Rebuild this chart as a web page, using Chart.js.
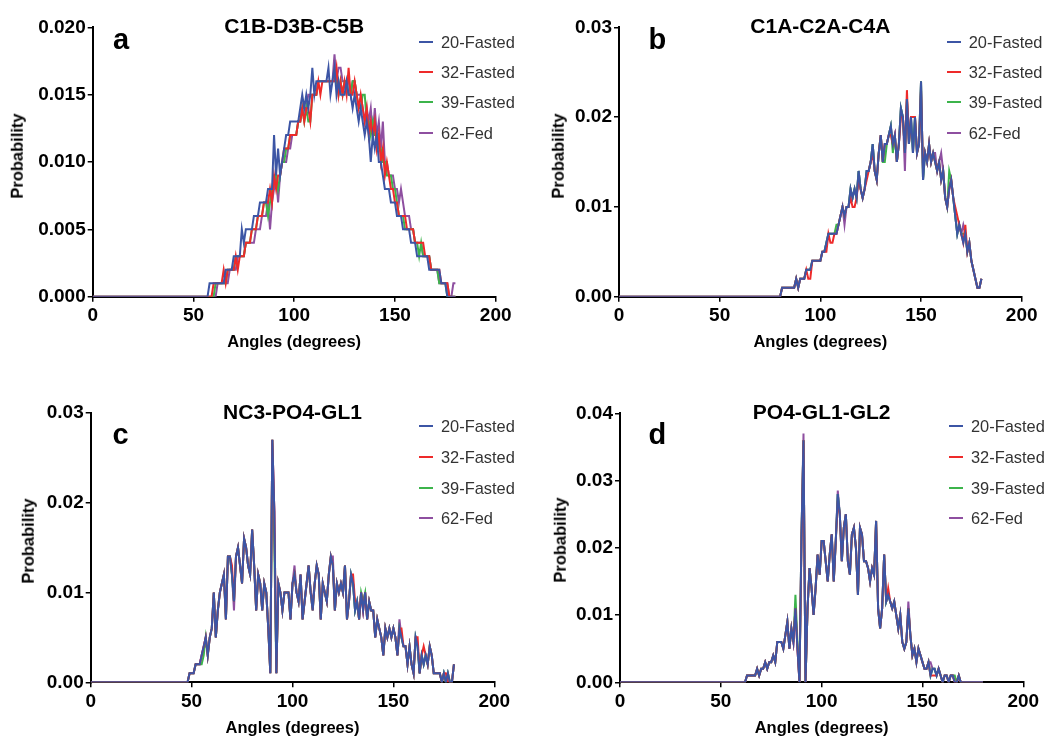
<!DOCTYPE html>
<html><head><meta charset="utf-8">
<script src="https://cdn.jsdelivr.net/npm/chart.js@4"></script>
<style>
html,body{margin:0;padding:0;background:#fff;}
body{width:1048px;height:736px;position:relative;overflow:hidden;font-family:"Liberation Sans",Arial,sans-serif;}
.panel{position:absolute;width:524px;height:368px;}
.panel canvas{position:absolute;left:0;top:0;}
.t{position:absolute;white-space:nowrap;line-height:1;color:#000;}
.lg{position:absolute;height:2px;}
</style></head><body>
<script>
// ---------------- DATA ----------------
const SERIES_NAMES = ['20-Fasted','32-Fasted','39-Fasted','62-Fed'];
const PANEL_TITLES = ['C1B-D3B-C5B','C1A-C2A-C4A','NC3-PO4-GL1','PO4-GL1-GL2'];
const PANEL_LETTERS = ['a','b','c','d'];
const X_TITLE = 'Angles (degrees)';
const Y_TITLE = 'Probability';
const X_TICKS = [0,50,100,150,200];
const Y_TICKS_A = [0,0.005,0.010,0.015,0.020];
const Y_TICKS_B = [0,0.01,0.02,0.03];
const Y_TICKS_C = [0,0.01,0.02,0.03];
const Y_TICKS_D = [0,0.01,0.02,0.03,0.04];

const ANGLES = [0,1,2,3,4,5,6,7,8,9,10,11,12,13,14,15,16,17,18,19,20,21,22,23,24,25,26,27,28,29,
30,31,32,33,34,35,36,37,38,39,40,41,42,43,44,45,46,47,48,49,50,51,52,53,54,55,56,57,58,59,
60,61,62,63,64,65,66,67,68,69,70,71,72,73,74,75,76,77,78,79,80,81,82,83,84,85,86,87,88,89,
90,91,92,93,94,95,96,97,98,99,100,101,102,103,104,105,106,107,108,109,110,111,112,113,114,115,116,117,118,119,
120,121,122,123,124,125,126,127,128,129,130,131,132,133,134,135,136,137,138,139,140,141,142,143,144,145,146,147,148,149,
150,151,152,153,154,155,156,157,158,159,160,161,162,163,164,165,166,167,168,169,170,171,172,173,174,175,176,177,178,179,180];

// Panel a: C1B-D3B-C5B
const A20 = [0,0,0,0,0,0,0,0,0,0, 0,0,0,0,0,0,0,0,0,0, 0,0,0,0,0,0,0,0,0,0, 0,0,0,0,0,0,0,0,0,0, 0,0,0,0,0,0,0,0,0,0,
0,0,0,0,0,0,0,0,.001,.001,
.001,.001,.001,.001,.001,.001,.002,.002,.002,.002,
.003,.003,.003,.003,.005,.004,.005,.005,.005,.005,
.006,.006,.006,.007,.007,.007,.007,.008,.008,.008,
.012,.009,.011,.009,.010,.011,.012,.012,.013,.013,
.013,.013,.013,.014,.015,.014,.015,.014,.015,.017,
.015,.016,.016,.016,.016,.016,.016,.017,.015,.016,
.017,.015,.016,.015,.015,.015,.016,.015,.015,.014,
.015,.014,.013,.014,.013,.012,.013,.012,.010,.012,
.011,.012,.010,.010,.009,.008,.008,.008,.007,.007,
.007,.006,.006,.006,.005,.005,.005,.005,.004,.004,
.004,.003,.003,.003,.003,.003,.003,.002,.002,.002,
.002,.002,.002,.001,.001,.001,0,0,0,0,
0];
const A32 = [0,0,0,0,0,0,0,0,0,0, 0,0,0,0,0,0,0,0,0,0, 0,0,0,0,0,0,0,0,0,0, 0,0,0,0,0,0,0,0,0,0, 0,0,0,0,0,0,0,0,0,0,
0,0,0,0,0,0,0,0,0,0,
.001,.001,.001,.001,.001,.002,.001,.002,.002,.002,
.002,.003,.002,.003,.003,.003,.004,.004,.004,.005,
.005,.005,.006,.006,.006,.007,.007,.007,.008,.007,
.009,.008,.009,.009,.010,.011,.011,.011,.012,.012,
.012,.012,.013,.013,.014,.013,.014,.014,.013,.015,
.015,.015,.016,.015,.016,.016,.016,.016,.016,.016,
.016,.017,.015,.016,.015,.016,.015,.017,.015,.015,
.016,.015,.014,.015,.014,.013,.014,.012,.013,.012,
.013,.011,.012,.010,.011,.009,.010,.009,.008,.008,
.007,.007,.006,.006,.006,.006,.005,.005,.005,.005,
.004,.004,.004,.004,.004,.003,.003,.003,.002,.002,
.002,.002,.002,.001,.001,.001,.001,0,0,0,
0];
const A39 = [0,0,0,0,0,0,0,0,0,0, 0,0,0,0,0,0,0,0,0,0, 0,0,0,0,0,0,0,0,0,0, 0,0,0,0,0,0,0,0,0,0, 0,0,0,0,0,0,0,0,0,0,
0,0,0,0,0,0,0,0,0,0,
0,.001,.001,.001,.001,.001,.001,.002,.002,.002,
.002,.003,.003,.003,.003,.003,.004,.004,.004,.005,
.005,.005,.006,.006,.006,.007,.007,.006,.007,.008,
.009,.009,.008,.009,.010,.010,.011,.011,.012,.012,
.012,.012,.013,.013,.014,.013,.014,.013,.013,.015,
.015,.015,.016,.016,.016,.016,.016,.016,.016,.016,
.016,.016,.015,.016,.015,.016,.016,.015,.015,.016,
.016,.015,.014,.014,.015,.015,.013,.013,.012,.013,
.012,.012,.011,.011,.010,.010,.009,.009,.009,.008,
.008,.007,.006,.006,.006,.005,.005,.005,.005,.005,
.004,.004,.003,.004,.003,.003,.003,.003,.002,.002,
.002,.002,.001,.001,.001,.001,0,0,0,0,
0];
const A62 = [0,0,0,0,0,0,0,0,0,0, 0,0,0,0,0,0,0,0,0,0, 0,0,0,0,0,0,0,0,0,0, 0,0,0,0,0,0,0,0,0,0, 0,0,0,0,0,0,0,0,0,0,
0,0,0,0,0,0,0,0,0,0,
0,0,.001,.001,.001,.001,.001,.001,.002,.002,
.002,.002,.003,.003,.003,.003,.004,.004,.004,.004,
.004,.005,.005,.005,.006,.006,.006,.007,.005,.007,
.008,.009,.007,.009,.010,.010,.010,.011,.011,.012,
.012,.012,.013,.013,.014,.014,.014,.015,.015,.015,
.015,.015,.016,.016,.016,.016,.016,.016,.016,.016,
.018,.016,.017,.017,.016,.016,.016,.016,.015,.016,
.016,.015,.015,.015,.014,.013,.014,.013,.014,.012,
.014,.012,.013,.011,.013,.010,.010,.009,.009,.009,
.008,.008,.007,.008,.007,.006,.006,.006,.005,.005,
.004,.004,.004,.004,.003,.003,.003,.003,.002,.002,
.002,.002,.001,.001,.001,.001,.001,0,0,.001,
.001];

// Panel b: C1A-C2A-C4A
const B20 = [0,0,0,0,0,0,0,0,0,0, 0,0,0,0,0,0,0,0,0,0, 0,0,0,0,0,0,0,0,0,0, 0,0,0,0,0,0,0,0,0,0, 0,0,0,0,0,0,0,0,0,0,
0,0,0,0,0,0,0,0,0,0, 0,0,0,0,0,0,0,0,0,0, 0,0,0,0,0,0,0,0,0,0,
0,.001,.001,.001,.001,.001,.001,.001,.002,.001,
.002,.002,.002,.003,.003,.003,.004,.004,.004,.004,
.004,.005,.005,.006,.007,.007,.007,.007,.007,.008,
.009,.010,.009,.010,.010,.012,.011,.012,.011,.014,
.012,.011,.012,.014,.014,.015,.017,.014,.013,.016,
.018,.015,.017,.017,.018,.019,.017,.018,.015,.017,
.021,.020,.016,.022,.017,.020,.016,.020,.016,.017,
.024,.013,.016,.015,.017,.015,.016,.015,.014,.015,
.013,.014,.011,.010,.012,.013,.011,.009,.007,.008,
.007,.006,.007,.005,.006,.004,.003,.002,.001,.001,
.002];
const B32 = [0,0,0,0,0,0,0,0,0,0, 0,0,0,0,0,0,0,0,0,0, 0,0,0,0,0,0,0,0,0,0, 0,0,0,0,0,0,0,0,0,0, 0,0,0,0,0,0,0,0,0,0,
0,0,0,0,0,0,0,0,0,0, 0,0,0,0,0,0,0,0,0,0, 0,0,0,0,0,0,0,0,0,0,
0,.001,.001,.001,.001,.001,.001,.001,.002,.001,
.002,.002,.002,.003,.002,.002,.004,.004,.004,.004,
.004,.005,.005,.005,.007,.006,.006,.007,.007,.008,
.009,.010,.009,.010,.010,.011,.010,.010,.011,.013,
.012,.011,.012,.013,.014,.015,.016,.014,.013,.016,
.018,.015,.017,.017,.018,.018,.017,.018,.015,.017,
.020,.020,.016,.023,.017,.020,.020,.020,.016,.017,
.023,.014,.016,.015,.017,.015,.016,.015,.014,.015,
.013,.014,.011,.010,.012,.013,.011,.010,.009,.008,
.007,.006,.008,.005,.006,.004,.003,.002,.001,.001,
.002];
const B39 = [0,0,0,0,0,0,0,0,0,0, 0,0,0,0,0,0,0,0,0,0, 0,0,0,0,0,0,0,0,0,0, 0,0,0,0,0,0,0,0,0,0, 0,0,0,0,0,0,0,0,0,0,
0,0,0,0,0,0,0,0,0,0, 0,0,0,0,0,0,0,0,0,0, 0,0,0,0,0,0,0,0,0,0,
0,.001,.001,.001,.001,.001,.001,.001,.002,.001,
.002,.002,.002,.003,.003,.003,.004,.004,.004,.004,
.004,.005,.005,.006,.007,.007,.007,.007,.008,.008,
.009,.010,.009,.010,.010,.012,.011,.012,.011,.014,
.012,.011,.012,.014,.014,.015,.017,.014,.013,.016,
.018,.015,.015,.017,.018,.019,.016,.018,.015,.017,
.021,.020,.016,.022,.017,.020,.016,.020,.016,.017,
.024,.013,.016,.015,.017,.015,.016,.015,.014,.015,
.013,.014,.011,.010,.014,.013,.011,.009,.007,.008,
.007,.007,.007,.005,.006,.004,.003,.002,.001,.001,
.002];
const B62 = [0,0,0,0,0,0,0,0,0,0, 0,0,0,0,0,0,0,0,0,0, 0,0,0,0,0,0,0,0,0,0, 0,0,0,0,0,0,0,0,0,0, 0,0,0,0,0,0,0,0,0,0,
0,0,0,0,0,0,0,0,0,0, 0,0,0,0,0,0,0,0,0,0, 0,0,0,0,0,0,0,0,0,0,
0,.001,.001,.001,.001,.001,.001,.001,.002,.001,
.002,.002,.002,.003,.003,.003,.004,.004,.004,.004,
.004,.005,.005,.006,.007,.007,.007,.007,.007,.008,
.009,.010,.008,.010,.010,.012,.011,.012,.011,.014,
.012,.011,.012,.014,.014,.015,.017,.014,.013,.016,
.018,.015,.017,.017,.018,.019,.017,.018,.015,.017,
.021,.020,.014,.022,.017,.020,.016,.020,.016,.017,
.024,.013,.016,.015,.017,.015,.016,.016,.014,.015,
.016,.014,.011,.010,.012,.013,.011,.009,.007,.008,
.007,.008,.007,.005,.006,.004,.003,.002,.001,.001,
.002];

// Panel c: NC3-PO4-GL1
const C20 = [0,0,0,0,0,0,0,0,0,0, 0,0,0,0,0,0,0,0,0,0, 0,0,0,0,0,0,0,0,0,0, 0,0,0,0,0,0,0,0,0,0,
0,0,0,0,0,0,0,0,0,.001,
.001,.001,.002,.002,.002,.003,.004,.005,.003,.005,
.006,.010,.005,.008,.010,.011,.012,.007,.014,.014,
.012,.009,.014,.015,.013,.011,.016,.015,.013,.012,
.017,.013,.008,.012,.011,.008,.011,.010,.006,.001,
.027,.019,.001,.011,.010,.008,.010,.010,.010,.007,
.011,.012,.010,.009,.012,.007,.009,.011,.013,.010,
.008,.011,.013,.012,.007,.011,.010,.009,.012,.014,
.013,.008,.011,.010,.011,.010,.013,.007,.009,.012,
.011,.008,.009,.007,.010,.008,.010,.007,.009,.008,
.008,.005,.007,.006,.005,.003,.006,.005,.006,.005,
.006,.005,.003,.006,.005,.004,.004,.002,.004,.002,
.001,.005,.004,.001,.003,.002,.003,.002,.004,.003,
.001,.001,.001,.001,0,.001,0,.001,0,0,
.002];
const C32 = [0,0,0,0,0,0,0,0,0,0, 0,0,0,0,0,0,0,0,0,0, 0,0,0,0,0,0,0,0,0,0, 0,0,0,0,0,0,0,0,0,0,
0,0,0,0,0,0,0,0,0,.001,
.001,.001,.002,.002,.002,.003,.004,.005,.003,.005,
.006,.010,.005,.008,.010,.011,.012,.007,.014,.014,
.013,.009,.014,.015,.013,.011,.016,.015,.013,.012,
.017,.013,.008,.012,.011,.008,.011,.010,.006,.001,
.027,.019,.001,.011,.010,.008,.010,.010,.010,.007,
.011,.012,.010,.009,.012,.007,.009,.011,.013,.010,
.008,.011,.013,.012,.007,.011,.010,.009,.012,.014,
.013,.008,.011,.010,.011,.010,.013,.007,.009,.012,
.012,.009,.009,.007,.010,.008,.010,.007,.009,.008,
.008,.005,.007,.006,.005,.003,.006,.005,.006,.005,
.006,.005,.003,.006,.006,.004,.004,.002,.004,.002,
.001,.005,.005,.001,.003,.004,.003,.002,.004,.003,
.001,.001,.001,.001,0,.001,.001,0,0,0,
.002];
const C39 = [0,0,0,0,0,0,0,0,0,0, 0,0,0,0,0,0,0,0,0,0, 0,0,0,0,0,0,0,0,0,0, 0,0,0,0,0,0,0,0,0,0,
0,0,0,0,0,0,0,0,0,.001,
.001,.001,.002,.002,.002,.002,.003,.005,.003,.005,
.006,.010,.005,.008,.010,.011,.012,.007,.014,.014,
.012,.009,.014,.015,.013,.011,.016,.015,.013,.012,
.017,.013,.008,.012,.011,.008,.011,.010,.006,.001,
.027,.015,.001,.011,.010,.008,.010,.010,.010,.007,
.011,.012,.010,.009,.012,.007,.009,.011,.013,.010,
.008,.011,.013,.012,.007,.011,.010,.009,.012,.014,
.013,.008,.011,.010,.011,.010,.013,.007,.009,.012,
.011,.008,.009,.007,.010,.009,.010,.007,.009,.008,
.008,.005,.007,.006,.005,.003,.006,.005,.006,.005,
.006,.005,.003,.006,.005,.004,.004,.002,.004,.002,
.001,.005,.004,.001,.003,.002,.003,.002,.004,.003,
.001,.001,.001,.001,0,.001,0,.001,0,0,
.002];
const C62 = [0,0,0,0,0,0,0,0,0,0, 0,0,0,0,0,0,0,0,0,0, 0,0,0,0,0,0,0,0,0,0, 0,0,0,0,0,0,0,0,0,0,
0,0,0,0,0,0,0,0,0,.001,
.001,.001,.002,.002,.002,.003,.004,.005,.003,.005,
.006,.010,.005,.008,.010,.011,.012,.007,.014,.014,
.012,.008,.014,.015,.013,.011,.016,.015,.013,.012,
.017,.013,.008,.012,.011,.008,.011,.010,.006,.001,
.027,.019,.001,.011,.010,.008,.010,.010,.010,.007,
.011,.013,.010,.009,.012,.007,.009,.011,.013,.010,
.009,.011,.013,.012,.007,.011,.010,.009,.012,.014,
.014,.008,.011,.010,.011,.010,.013,.007,.009,.012,
.011,.008,.009,.007,.010,.008,.010,.007,.009,.008,
.008,.005,.007,.006,.005,.003,.006,.005,.006,.005,
.006,.005,.003,.007,.005,.004,.004,.002,.004,.002,
.001,.005,.004,.001,.003,.002,.003,.002,.004,.003,
.001,.001,.001,.001,0,.001,0,.001,0,0,
.002];

// Panel d: PO4-GL1-GL2
const D20 = [0,0,0,0,0,0,0,0,0,0, 0,0,0,0,0,0,0,0,0,0, 0,0,0,0,0,0,0,0,0,0, 0,0,0,0,0,0,0,0,0,0, 0,0,0,0,0,0,0,0,0,0,
0,0,0,0,0,0,0,0,0,0,
0,0,0,.001,.001,.001,.001,.001,.002,.001,
.002,.002,.003,.002,.003,.003,.004,.003,.006,.006,
.006,.005,.007,.009,.005,.008,.006,.011,.005,0,
.022,.036,0,.011,.017,.014,.010,.014,.019,.016,
.021,.021,.018,.015,.019,.022,.015,.021,.028,.025,
.018,.023,.025,.018,.016,.022,.023,.020,.013,.023,
.022,.018,.018,.017,.015,.017,.016,.024,.011,.008,
.011,.019,.012,.013,.012,.011,.012,.010,.008,.010,
.006,.005,.006,.011,.007,.004,.005,.003,.005,.004,
.003,.002,.002,.003,.001,.002,.002,.001,.002,.001,
0,.001,.001,0,.001,.001,0,0,.001,0,
0,0,0,0,0,0,0,0,0,0,
0];
const D32 = [0,0,0,0,0,0,0,0,0,0, 0,0,0,0,0,0,0,0,0,0, 0,0,0,0,0,0,0,0,0,0, 0,0,0,0,0,0,0,0,0,0, 0,0,0,0,0,0,0,0,0,0,
0,0,0,0,0,0,0,0,0,0,
0,0,0,.001,.001,.001,.001,.001,.002,.001,
.002,.002,.003,.002,.003,.003,.004,.003,.006,.006,
.006,.005,.007,.009,.005,.008,.006,.011,.005,0,
.021,.036,0,.011,.017,.014,.010,.014,.019,.016,
.021,.021,.018,.015,.019,.022,.015,.021,.027,.025,
.018,.023,.025,.018,.016,.022,.023,.020,.013,.023,
.022,.018,.018,.017,.015,.017,.016,.024,.011,.008,
.011,.019,.012,.014,.012,.011,.012,.010,.008,.010,
.006,.005,.006,.011,.007,.004,.005,.003,.005,.004,
.003,.002,.002,.003,.001,.001,.001,.001,.002,.001,
0,.001,.001,0,.001,.001,0,0,.001,0,
0,0,0,0,0,0,0,0,0,0,
0];
const D39 = [0,0,0,0,0,0,0,0,0,0, 0,0,0,0,0,0,0,0,0,0, 0,0,0,0,0,0,0,0,0,0, 0,0,0,0,0,0,0,0,0,0, 0,0,0,0,0,0,0,0,0,0,
0,0,0,0,0,0,0,0,0,0,
0,0,0,.001,.001,.001,.001,.001,.002,.001,
.002,.002,.003,.002,.003,.003,.004,.003,.006,.006,
.006,.005,.007,.009,.005,.008,.006,.013,.006,0,
.022,.036,0,.011,.017,.014,.010,.014,.019,.016,
.021,.021,.018,.015,.019,.022,.015,.021,.028,.025,
.018,.023,.025,.018,.016,.022,.023,.020,.013,.023,
.022,.018,.018,.017,.015,.017,.016,.024,.011,.008,
.011,.019,.012,.013,.012,.011,.012,.010,.008,.010,
.006,.005,.006,.011,.007,.004,.005,.003,.005,.004,
.003,.002,.002,.003,.001,.002,.002,.001,.002,.001,
0,.001,.001,0,.001,.001,.001,0,.001,0,
0,0,0,0,0,0,0,0,0,0,
0];
const D62 = [0,0,0,0,0,0,0,0,0,0, 0,0,0,0,0,0,0,0,0,0, 0,0,0,0,0,0,0,0,0,0, 0,0,0,0,0,0,0,0,0,0, 0,0,0,0,0,0,0,0,0,0,
0,0,0,0,0,0,0,0,0,0,
0,0,0,.001,.001,.001,.001,.001,.002,.001,
.002,.002,.003,.002,.003,.003,.004,.003,.006,.006,
.006,.005,.007,.009,.005,.008,.006,.011,.005,0,
.022,.037,0,.011,.017,.014,.010,.014,.019,.016,
.021,.021,.018,.015,.019,.022,.015,.021,.0285,.025,
.018,.023,.025,.018,.016,.022,.023,.020,.013,.023,
.022,.018,.018,.017,.015,.017,.016,.024,.011,.008,
.011,.019,.012,.013,.012,.011,.012,.010,.008,.010,
.006,.005,.006,.012,.007,.004,.005,.003,.005,.004,
.003,.002,.002,.003,.003,.002,.002,.001,.002,.001,
0,.001,.001,0,.001,.001,0,0,.001,0,
0,0,0,0,0,0,0,0,0,0,
0];

// ---------------- LAYOUT / STYLE ----------------
const COLORS = ['#3c55a5','#ee2a2a','#3cb44b','#8e4fa0'];
const W = 524, H = 368, XH = 30;
const PANELS = [
  {left:0,   top:0,   series:[A20,A32,A39,A62], yt:Y_TICKS_A, dec:3,
   area:{l:92.7,r:495.7,t:27.3,b:296.7}, titleY:25.7, letter:{x:121,base:50},
   yTitle:{x:17,y:156}, xTitleY:341.5, legendX:419, legendYs:[41.7,71.7,102.3,133.3]},
  {left:524, top:0,   series:[B20,B32,B39,B62], yt:Y_TICKS_B, dec:2,
   area:{l:95,r:497.7,t:27.3,b:296.7}, titleY:25.7, letter:{x:133.3,base:50},
   yTitle:{x:34.2,y:156}, xTitleY:341, legendX:422.7, legendYs:[41.7,71.7,102.3,133.3]},
  {left:0,   top:368, series:[C20,C32,C39,C62], yt:Y_TICKS_C, dec:2,
   area:{l:90.7,r:494.3,t:44.7,b:314.3}, titleY:43, letter:{x:120.7,base:77},
   yTitle:{x:27.5,y:172.8}, xTitleY:359.5, legendX:419, legendYs:[57.7,89.3,119.7,149.7]},
  {left:524, top:368, series:[D20,D32,D39,D62], yt:Y_TICKS_D, dec:2,
   area:{l:96,r:499.3,t:45.3,b:314.3}, titleY:43, letter:{x:133.3,base:77},
   yTitle:{x:35.8,y:172}, xTitleY:359.5, legendX:425, legendYs:[57.7,89.3,119.7,149.7]}
];
const FONT = '"Liberation Sans", Arial, sans-serif';
const BASE = 0.8465; // baseline offset for line-height:1

function addText(parent, txt, opts) {
  const d = document.createElement('div');
  d.className = 't';
  d.textContent = txt;
  d.style.fontSize = opts.size + 'px';
  d.style.fontWeight = opts.bold ? 'bold' : 'normal';
  if (opts.color) d.style.color = opts.color;
  parent.appendChild(d);
  return d;
}

PANELS.forEach((P, pi) => {
  const div = document.createElement('div');
  div.className = 'panel';
  div.style.left = P.left + 'px';
  div.style.top = P.top + 'px';
  document.body.appendChild(div);
  const cv = document.createElement('canvas');
  cv.width = W; cv.height = H;
  cv.style.width = W + 'px'; cv.style.height = H + 'px';
  div.appendChild(cv);

  const datasets = P.series.map((s, si) => ({
    label: SERIES_NAMES[si],
    data: ANGLES.map((a, i) => ({x: a, y: s[i]})),
    borderColor: COLORS[si],
    borderWidth: 2,
    pointRadius: 0,
    tension: 0,
    fill: false
  }));
  const tickFont = {family: FONT, size: 19, weight: 'bold'};
  const grid = {drawOnChartArea: false, drawTicks: true, tickLength: 5, color: '#000', lineWidth: 1.5};
  const border = {color: '#000', width: 2};
  new Chart(cv, {
    type: 'line',
    data: {datasets},
    options: {
      responsive: false, animation: false, devicePixelRatio: 1,
      layout: {padding: {left: 0, top: P.area.t, right: W - P.area.r, bottom: H - P.area.b - XH}},
      plugins: {legend: {display: false}, tooltip: {enabled: false}, title: {display: false}},
      scales: {
        x: {type: 'linear', min: 0, max: 200,
            afterFit: s => { s.height = XH; },
            afterBuildTicks: s => { s.ticks = X_TICKS.map(v => ({value: v})); },
            ticks: {font: tickFont, color: '#000', padding: 3, maxRotation: 0, callback: v => String(v)},
            grid, border},
        y: {type: 'linear', min: 0, max: P.yt[P.yt.length - 1],
            afterFit: s => { s.width = P.area.l; },
            afterBuildTicks: s => { s.ticks = P.yt.map(v => ({value: v})); },
            ticks: {font: tickFont, color: '#000', padding: 2, callback: v => Number(v).toFixed(P.dec)},
            grid, border}
      }
    }
  });

  // title
  const tsz = 21;
  const t = addText(div, PANEL_TITLES[pi], {size: tsz, bold: true});
  const cx = (P.area.l + P.area.r) / 2;
  t.style.left = cx + 'px';
  t.style.transform = 'translateX(-50%)';
  t.style.top = (P.titleY + 0.716 * tsz / 2 - BASE * tsz) + 'px';

  // panel letter
  const lsz = 29;
  const l = addText(div, PANEL_LETTERS[pi], {size: lsz, bold: true});
  l.style.left = P.letter.x + 'px';
  l.style.transform = 'translateX(-50%)';
  l.style.top = (P.letter.base - BASE * lsz) + 'px';

  // x axis title
  const asz = 16.5;
  const xt = addText(div, X_TITLE, {size: asz, bold: true});
  xt.style.left = cx + 'px';
  xt.style.transform = 'translateX(-50%)';
  xt.style.top = (P.xTitleY + 0.716 * asz / 2 - BASE * asz) + 'px';

  // y axis title (rotated)
  const yt = addText(div, Y_TITLE, {size: asz, bold: true});
  yt.style.left = P.yTitle.x + 'px';
  yt.style.top = P.yTitle.y + 'px';
  yt.style.transform = 'translate(-50%,-50%) rotate(-90deg)';

  // legend
  const gsz = 16.4;
  SERIES_NAMES.forEach((name, si) => {
    const y = P.legendYs[si];
    const ln = document.createElement('div');
    ln.className = 'lg';
    ln.style.left = P.legendX + 'px';
    ln.style.width = '14px';
    ln.style.top = (y - 1) + 'px';
    ln.style.background = COLORS[si];
    div.appendChild(ln);
    const tx = addText(div, name, {size: gsz, color: '#333'});
    tx.style.left = (P.legendX + 22) + 'px';
    tx.style.top = (y + 0.716 * gsz / 2 - BASE * gsz) + 'px';
  });
});
</script>
</body></html>
